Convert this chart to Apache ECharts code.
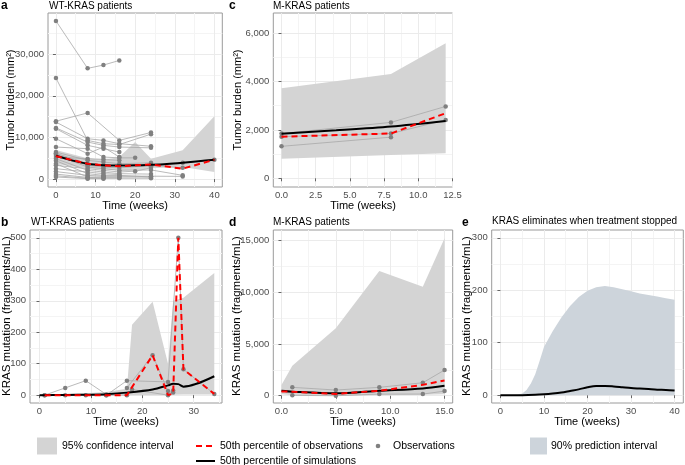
<!DOCTYPE html>
<html><head><meta charset="utf-8">
<script src="https://cdn.jsdelivr.net/npm/echarts@6/dist/echarts.min.js"></script>
<style>html,body{margin:0;padding:0;background:#fff}#c{width:685px;height:465px}</style>
</head><body><div id="c"></div>
<script>
// ---------- Panel a: WT-KRAS tumor burden ----------
const aXTicks = [0, 10, 20, 30, 40];
const aXMinor = [5, 15, 25, 35];
const aYTicks = [0, 10000, 20000, 30000];
const aYMinor = [5000, 15000, 25000, 35000];
const aPatients = [
  [[0,38000],[8,26600],[12,27400],[16,28500]],
  [[0,24300],[8,9300],[12,8500],[16,8300],[24,10800]],
  [[0,13900],[8,15900],[16,9300],[24,11200]],
  [[0,13700],[8,9700],[12,9300],[16,8500],[24,7900]],
  [[0,12300],[8,8900],[12,8100],[16,7700],[24,7500]],
  [[0,12100],[8,8100],[12,7300],[16,6500]],
  [[0,9700],[8,6100],[12,7700],[16,5300]],
  [[0,7700],[8,7300],[12,5300],[16,5100],[20,5100]],
  [[0,6500],[8,4500],[12,4100],[16,3700],[24,3900]],
  [[0,6200],[8,3700],[12,3300],[16,3300],[24,3100],[32,3900],[40,4650]],
  [[0,5800],[8,2900],[12,2500],[16,2100],[24,2200],[32,900]],
  [[0,4900],[8,2100],[12,1700],[16,1300],[24,1200]],
  [[0,4400],[8,1300],[12,900],[16,900],[24,500]],
  [[0,3700],[8,500],[12,500],[16,500],[24,500]],
  [[0,3300],[8,2500],[12,2100],[16,1700],[20,1900],[24,2700]],
  [[0,2500],[8,1700],[12,1300],[16,1100]],
  [[0,1800],[8,900],[12,700],[16,700],[24,700],[32,650]],
  [[0,1200],[8,400],[12,300],[16,300]],
  [[0,800],[8,200],[12,200],[16,200],[24,200]],
  [[0,500],[8,100],[12,100]],
  [[0,6000],[8,3300],[12,2900],[16,2700],[24,3300],[32,2700]],
  [[0,5300],[8,4900],[12,4700],[16,4500]]
];
const aBandX  = [0, 8, 12, 16, 20, 24, 32, 40];
const aBandLo = [3600, 2600, 2300, 2100, 2200, 2600, 2900, 1700];
const aBandHi = [7000, 5000, 4600, 5300, 8900, 4900, 6900, 15100];
const aSimX = [0, 4, 8, 12, 16, 20, 24, 28, 32, 36, 40];
const aSimY = [5600, 4500, 3700, 3350, 3250, 3300, 3450, 3650, 3950, 4300, 4650];
const aMedX = [0, 8, 12, 16, 20, 24, 32, 40];
const aMedY = [5500, 3700, 3300, 3100, 3300, 3500, 2500, 4650];

// ---------- Panel c: M-KRAS tumor burden ----------
const cXTicks = [0, 2.5, 5, 7.5, 10, 12.5];
const cXMinor = [1.25, 3.75, 6.25, 8.75, 11.25];
const cYTicks = [0, 2000, 4000, 6000];
const cYMinor = [1000, 3000, 5000];
const cPatients = [
  [[0,1850],[8,2310],[12,2970]],
  [[0,1720],[8,1850],[12,2410]],
  [[0,1320],[8,1700]]
];
const cBandX  = [0, 8, 12];
const cBandLo = [810, 960, 1030];
const cBandHi = [3720, 4310, 5580];
const cSimX = [0, 4, 8, 12];
const cSimY = [1840, 1980, 2140, 2370];
const cMedX = [0, 8, 12];
const cMedY = [1720, 1850, 2690];

// ---------- Panel b: WT-KRAS mutation ----------
const bXTicks = [0, 10, 20, 30];
const bXMinor = [5, 15, 25, 35];
const bYTicks = [0, 100, 200, 300, 400, 500];
const bYMinor = [50, 150, 250, 350, 450];
const bPatients = [
  [[1,0],[5,23],[9,46],[13,2]],
  [[13,0],[17,46],[25,42],[27,500],[28,82],[34,4]],
  [[17,23],[22,127],[25,13],[26,8]],
  [[1,0],[5,0],[9,0],[13,0],[17,0],[18,18],[25,0],[26,15]]
];
const bBandX  = [1, 5, 9, 13, 17, 18, 22, 25, 26, 28, 34];
const bBandLo = [0, 0, 0, 0, 0, 0, 0, 0, 1, 2, 2];
const bBandHi = [1, 3, 6, 10, 20, 224, 297, 100, 300, 310, 388];
const bSimX = [0, 5, 10, 13, 17, 22, 25, 26, 27, 28, 34];
const bSimY = [0, 0.5, 1.5, 3, 8, 18, 31, 36, 35, 27, 60];
const bMedX = [1, 5, 9, 13, 17, 22, 25, 26, 27, 28, 34];
const bMedY = [0, 0, 0, 0, 0, 127, 0, 5, 500, 82, 4];

// ---------- Panel d: M-KRAS mutation ----------
const dXTicks = [0, 5, 10, 15];
const dXMinor = [2.5, 7.5, 12.5];
const dYTicks = [0, 5000, 10000, 15000];
const dYMinor = [2500, 7500, 12500];
const dPatients = [
  [[1,810],[5,550],[9,810],[13,1255],[15,2480]],
  [[1,40],[5,0],[9,160],[13,160],[15,450]]
];
const dBandX  = [0, 1, 5, 9, 13, 15];
const dBandLo = [150, 50, 0, 50, 100, 150];
const dBandHi = [1030, 2900, 6500, 12040, 10520, 15190];
const dSimX = [0, 1, 5, 9, 13, 15];
const dSimY = [480, 390, 230, 480, 710, 965];
const dMedX = [0, 1, 5, 9, 13, 15];
const dMedY = [420, 380, 180, 480, 1050, 1480];

// ---------- Panel e: KRAS eliminates when treatment stopped ----------
const eXTicks = [0, 10, 20, 30, 40];
const eXMinor = [5, 15, 25, 35];
const eYTicks = [0, 100, 200, 300];
const eYMinor = [50, 150, 250];
const eBandX  = [0, 2, 4, 5, 6, 7, 8, 9, 10, 12, 14, 16, 18, 20, 22, 24, 26, 28, 30, 32, 34, 36, 38, 40];
const eBandLo = [0, 0, 0, 0, 0, 0, 0, 0, 0, 0, 0, 0, 0, 0, 0, 0, 0, 0, 0, 0, 0, 0, 0, 0];
const eBandHi = [0, 0, 0.5, 3, 10, 22, 40, 65, 92, 122, 148, 170, 187, 199, 206, 208, 206, 202, 198, 194, 191, 188, 185, 182];
const eSimX = [0, 5, 8, 10, 12, 14, 16, 18, 20, 22, 24, 26, 28, 30, 32, 34, 36, 38, 40];
const eSimY = [0, 0, 0.5, 1.5, 3, 5, 8, 11, 15, 17.5, 17.5, 16.5, 15, 13.5, 12.5, 11.5, 10.5, 10, 9];

// ---------- styling ----------
const FONT = 'Liberation Sans, Arial, sans-serif';
const GREY_BAND = '#D4D4D4';
const BLUE_BAND = '#CDD4DB';
const OBS_LINE = '#A8A8A8';
const OBS_PT = '#808080';

const fmtComma = v => Math.round(v).toLocaleString('en-US');
const fmtInt = v => String(Math.round(v));
const fmt1 = v => v.toFixed(1);

function axisCfg(gi, min, max, ticks, fmt, margin) {
  return {
    type: 'value', gridIndex: gi, min, max,
    axisLine: { show: false },
    axisTick: { show: true, length: 3, customValues: ticks, lineStyle: { color: '#666', width: 1 } },
    axisLabel: { customValues: ticks, formatter: fmt, fontSize: 9.5, color: '#4D4D4D', margin, fontFamily: FONT },
    splitLine: { show: false }
  };
}
function gridLines(gi, xMaj, xMin, yMaj, yMin) {
  const maj = { color: '#EBEBEB', width: 1, type: 'solid' };
  const mnr = { color: '#F4F4F4', width: 1, type: 'solid' };
  return {
    type: 'line', xAxisIndex: gi, yAxisIndex: gi, data: [], silent: true, z: 0,
    markLine: {
      z: 0, silent: true, symbol: ['none', 'none'], label: { show: false }, animation: false,
      emphasis: { disabled: true },
      data: [
        ...xMin.map(v => ({ xAxis: v, lineStyle: mnr })),
        ...yMin.map(v => ({ yAxis: v, lineStyle: mnr })),
        ...xMaj.map(v => ({ xAxis: v, lineStyle: maj })),
        ...yMaj.map(v => ({ yAxis: v, lineStyle: maj }))
      ]
    }
  };
}
function band(gi, xs, lo, hi, color) {
  return {
    type: 'custom', xAxisIndex: gi, yAxisIndex: gi, silent: true, z: 6,
    data: xs.map((x, i) => [x, lo[i], hi[i]]),
    encode: { x: 0, y: [1, 2] },
    renderItem: (params, api) => {
      if (params.dataIndex !== 0) return null;
      const pts = [];
      for (let i = 0; i < xs.length; i++) pts.push(api.coord([xs[i], hi[i]]));
      for (let i = xs.length - 1; i >= 0; i--) pts.push(api.coord([xs[i], lo[i]]));
      return { type: 'polygon', shape: { points: pts }, style: { fill: color } };
    }
  };
}
function patients(gi, list) {
  return list.map(p => ({
    type: 'line', xAxisIndex: gi, yAxisIndex: gi, data: p, z: 7, silent: true,
    symbol: 'circle', symbolSize: 4.5, showSymbol: true,
    lineStyle: { color: OBS_LINE, width: 0.8 },
    itemStyle: { color: OBS_PT }
  }));
}
function simLine(gi, xs, ys) {
  return {
    type: 'line', xAxisIndex: gi, yAxisIndex: gi, data: xs.map((x, i) => [x, ys[i]]),
    z: 8, silent: true, symbol: 'none', smooth: 0.3,
    lineStyle: { color: '#000', width: 2 }
  };
}
function medLine(gi, xs, ys) {
  return {
    type: 'line', xAxisIndex: gi, yAxisIndex: gi, data: xs.map((x, i) => [x, ys[i]]),
    z: 9, silent: true, symbol: 'none',
    lineStyle: { color: '#FF0000', width: 2, type: [6, 4] }
  };
}
function T(text, x, y, o = {}) {
  return {
    type: 'text', x, y, rotation: o.rot || 0, silent: true,
    style: {
      text, fontSize: o.size || 10, fontFamily: FONT, fontWeight: o.bold ? 'bold' : 'normal',
      fill: o.color || '#000', textAlign: o.align || 'left', textVerticalAlign: 'middle'
    }
  };
}

const gridStyle = { show: true, borderColor: '#9A9A9A', borderWidth: 1, backgroundColor: 'transparent' };
const grids = [
  { left: 48, top: 13, width: 174.3, height: 174, ...gridStyle },     // a
  { left: 273.3, top: 13, width: 179.2, height: 174, ...gridStyle },  // c
  { left: 30, top: 230, width: 192, height: 173, ...gridStyle },      // b
  { left: 273.3, top: 230, width: 179.4, height: 173, ...gridStyle }, // d
  { left: 491.7, top: 230, width: 191.6, height: 173, ...gridStyle }  // e
];

const option = {
  animation: false,
  backgroundColor: '#fff',
  grid: grids,
  xAxis: [
    axisCfg(0, -2, 42, aXTicks, fmtInt, 3),
    axisCfg(1, -0.6, 12.5, cXTicks, fmt1, 3),
    axisCfg(2, -1.85, 35.5, bXTicks, fmtInt, 3),
    axisCfg(3, -0.75, 15.75, dXTicks, fmt1, 3),
    axisCfg(4, -2, 42, eXTicks, fmtInt, 3)
  ],
  yAxis: [
    axisCfg(0, -1900, 39900, aYTicks, fmtComma, 4),
    axisCfg(1, -360, 6830, cYTicks, fmtComma, 4),
    axisCfg(2, -25, 525, bYTicks, fmtInt, 4),
    axisCfg(3, -700, 15990, dYTicks, fmtComma, 4),
    axisCfg(4, -15, 315, eYTicks, fmtInt, 4)
  ],
  series: [
    gridLines(0, aXTicks, aXMinor, aYTicks, aYMinor),
    gridLines(1, cXTicks, cXMinor, cYTicks, cYMinor),
    gridLines(2, bXTicks, bXMinor, bYTicks, bYMinor),
    gridLines(3, dXTicks, dXMinor, dYTicks, dYMinor),
    gridLines(4, eXTicks, eXMinor, eYTicks, eYMinor),
    band(0, aBandX, aBandLo, aBandHi, GREY_BAND),
    band(1, cBandX, cBandLo, cBandHi, GREY_BAND),
    band(2, bBandX, bBandLo, bBandHi, GREY_BAND),
    band(3, dBandX, dBandLo, dBandHi, GREY_BAND),
    band(4, eBandX, eBandLo, eBandHi, BLUE_BAND),
    ...patients(0, aPatients),
    ...patients(1, cPatients),
    ...patients(2, bPatients),
    ...patients(3, dPatients),
    simLine(0, aSimX, aSimY),
    simLine(1, cSimX, cSimY),
    simLine(2, bSimX, bSimY),
    simLine(3, dSimX, dSimY),
    simLine(4, eSimX, eSimY),
    medLine(0, aMedX, aMedY),
    medLine(1, cMedX, cMedY),
    medLine(2, bMedX, bMedY),
    medLine(3, dMedX, dMedY)
  ],
  graphic: [
    // panel tags and titles
    T('a', 1, 6, { bold: true, size: 12 }),
    T('WT-KRAS patients', 49, 6),
    T('c', 229, 6, { bold: true, size: 12 }),
    T('M-KRAS patients', 273, 6),
    T('b', 1, 223, { bold: true, size: 12 }),
    T('WT-KRAS patients', 31, 222),
    T('d', 229, 223, { bold: true, size: 12 }),
    T('M-KRAS patients', 273, 222),
    T('e', 462, 223, { bold: true, size: 12 }),
    T('KRAS eliminates when treatment stopped', 492, 221),
    // axis titles
    T('Time (weeks)', 135, 206, { align: 'center', size: 11 }),
    T('Time (weeks)', 363, 206, { align: 'center', size: 11 }),
    T('Time (weeks)', 126, 422, { align: 'center', size: 11 }),
    T('Time (weeks)', 363, 422, { align: 'center', size: 11 }),
    T('Time (weeks)', 587, 422, { align: 'center', size: 11 }),
    T('Tumor burden (mm²)', 11, 100, { align: 'center', size: 11, rot: Math.PI / 2 }),
    T('Tumor burden (mm²)', 238, 100, { align: 'center', size: 11, rot: Math.PI / 2 }),
    T('KRAS mutation (fragments/mL)', 7, 316, { align: 'center', size: 11.5, rot: Math.PI / 2 }),
    T('KRAS mutation (fragments/mL)', 237, 316, { align: 'center', size: 11.5, rot: Math.PI / 2 }),
    T('KRAS mutation (fragments/mL)', 467, 316, { align: 'center', size: 11.5, rot: Math.PI / 2 }),
    // legend
    { type: 'rect', shape: { x: 37, y: 437.5, width: 20, height: 17 }, style: { fill: GREY_BAND }, silent: true },
    T('95% confidence interval', 62, 446, { size: 10.5 }),
    { type: 'line', shape: { x1: 196, y1: 446, x2: 215, y2: 446 }, style: { stroke: '#FF0000', lineWidth: 2, lineDash: [6, 4] }, silent: true },
    T('50th percentile of observations', 220, 446, { size: 10.5 }),
    { type: 'line', shape: { x1: 196, y1: 461, x2: 215, y2: 461 }, style: { stroke: '#000', lineWidth: 2 }, silent: true },
    T('50th percentile of simulations', 220, 461, { size: 10.5 }),
    { type: 'circle', shape: { cx: 378, cy: 446, r: 2.3 }, style: { fill: OBS_PT }, silent: true },
    T('Observations', 393, 446, { size: 10.5 }),
    { type: 'rect', shape: { x: 530, y: 437.5, width: 17, height: 17 }, style: { fill: BLUE_BAND }, silent: true },
    T('90% prediction interval', 551, 446, { size: 10.5 })
  ]
};

const chart = echarts.init(document.getElementById('c'), null, { renderer: 'canvas', width: 685, height: 465 });
chart.setOption(option);
</script>
</body></html>
